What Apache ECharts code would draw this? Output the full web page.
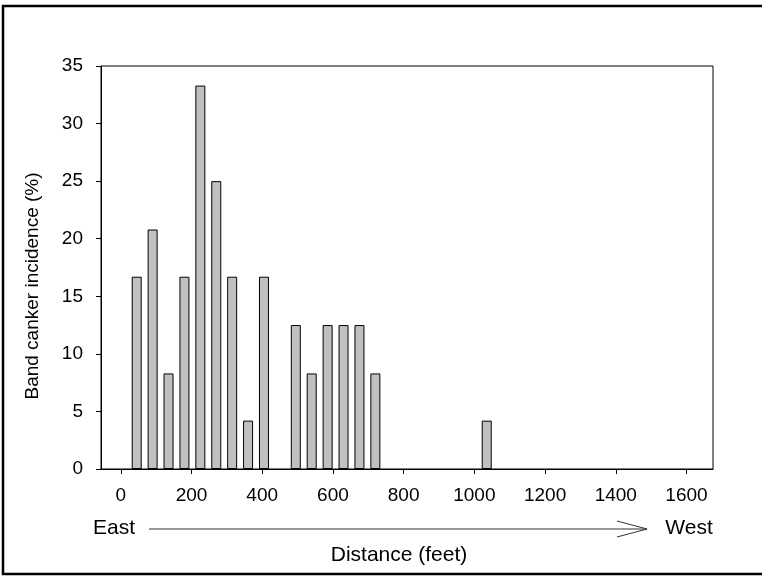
<!DOCTYPE html>
<html lang="en">
<head>
    <meta charset="UTF-8">
    <title>Band canker incidence</title>
    <script src="https://cdn.jsdelivr.net/npm/echarts@6/dist/echarts.min.js"></script>
    <style>
        html, body { margin: 0; padding: 0; background: #fff; }
        #chart { width: 762px; height: 576px; }
    </style>
</head>
<body>
<div id="chart"></div>
<script>
// distance along the row (feet) and incidence (%)
const distances = [45, 90, 135, 180, 225, 270, 315, 360, 405, 495, 540, 585, 630, 675, 720, 1035];
const incidence = [16.7, 20.8, 8.3, 16.7, 33.3, 25, 16.7, 4.2, 16.7, 12.5, 8.3, 12.5, 12.5, 12.5, 8.3, 4.2];
const xTicks = [0, 200, 400, 600, 800, 1000, 1200, 1400, 1600];

const font = "'Liberation Sans', Arial, sans-serif";
const chart = echarts.init(document.getElementById('chart'));

chart.setOption({
  backgroundColor: '#fff',
  animation: false,
  grid: {
    left: 101, top: 66, width: 612, height: 403,
    show: true, borderColor: '#000', borderWidth: 1, backgroundColor: 'transparent'
  },
  xAxis: {
    type: 'value', min: -56, max: 1675,
    axisLine: { show: true, onZero: false, lineStyle: { color: '#000', width: 1 } },
    axisTick: { show: true, inside: false, length: 5, customValues: xTicks, lineStyle: { color: '#000' } },
    axisLabel: { customValues: xTicks, margin: 17, color: '#000', fontSize: 19, fontFamily: font,
      formatter: v => String(v) },
    splitLine: { show: false }
  },
  yAxis: {
    type: 'value', min: 0, max: 35, interval: 5,
    axisLine: { show: true, onZero: false, lineStyle: { color: '#000', width: 1 } },
    axisTick: { show: true, inside: false, length: 5, lineStyle: { color: '#000' } },
    axisLabel: { margin: 18, color: '#000', fontSize: 19, fontFamily: font },
    splitLine: { show: false }
  },
  series: [{
    type: 'bar',
    barWidth: 10,
    data: distances.map((d, i) => [d, incidence[i]]),
    itemStyle: { color: '#c0c0c0', borderColor: '#000', borderWidth: 1 }
  }],
  graphic: [
    // outer frame
    { type: 'rect', shape: { x: 3, y: 6, width: 770, height: 568 },
      style: { fill: 'none', stroke: '#000', lineWidth: 2.5 }, silent: true },
    // y axis title
    { type: 'text', x: 33, y: 286, rotation: Math.PI / 2,
      style: { text: 'Band canker incidence (%)', font: '19px ' + font, fill: '#000', align: 'center', verticalAlign: 'middle' } },
    // east -> west arrow
    { type: 'text', x: 114, y: 528,
      style: { text: 'East', font: '21px ' + font, fill: '#000', align: 'center', verticalAlign: 'middle' } },
    { type: 'line', shape: { x1: 149, y1: 529, x2: 647, y2: 529 }, style: { stroke: '#333', lineWidth: 1 } },
    { type: 'polyline', shape: { points: [[617, 521], [647, 529], [617, 537]] }, style: { fill: 'none', stroke: '#333', lineWidth: 1 } },
    { type: 'text', x: 689, y: 528,
      style: { text: 'West', font: '21px ' + font, fill: '#000', align: 'center', verticalAlign: 'middle' } },
    // x axis title
    { type: 'text', x: 399, y: 555,
      style: { text: 'Distance (feet)', font: '21px ' + font, fill: '#000', align: 'center', verticalAlign: 'middle' } }
  ]
});
</script>
</body>
</html>
